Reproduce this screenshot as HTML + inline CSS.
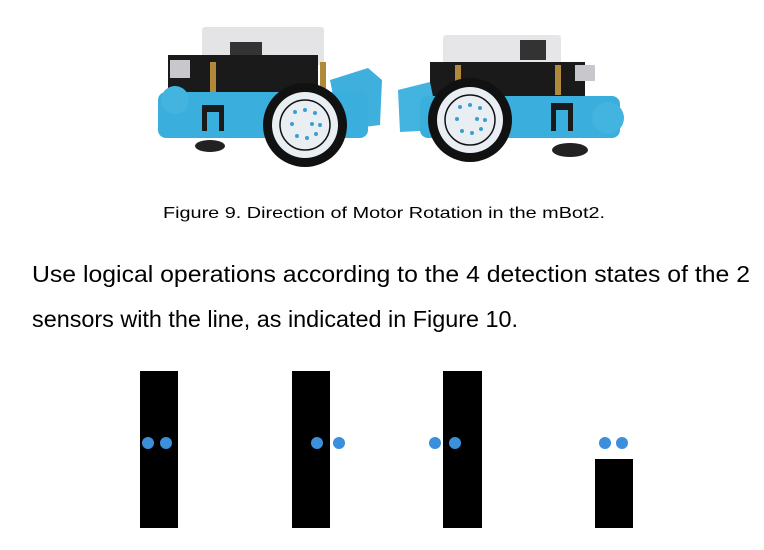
<!DOCTYPE html>
<html><head><meta charset="utf-8"><style>
html,body{margin:0;padding:0;background:#fff;}
svg{display:block}
text{font-family:"Liberation Sans",sans-serif;fill:#000}
</style></head><body>
<svg width="764" height="550" viewBox="0 0 764 550" xmlns="http://www.w3.org/2000/svg">
<rect width="764" height="550" fill="#fff"/>
<!-- Left robot -->
<g>
  <rect x="202" y="27" width="122" height="38" rx="3" fill="#e4e4e6"/>
  <rect x="230" y="42" width="32" height="16" fill="#333"/>
  <rect x="168" y="55" width="150" height="40" fill="#1a1a1a"/>
  <rect x="170" y="60" width="20" height="18" fill="#c8c8cc"/>
  <rect x="210" y="62" width="6" height="34" fill="#b08a3a"/>
  <rect x="320" y="62" width="6" height="30" fill="#b08a3a"/>
  <path d="M330 80 L368 68 L382 80 L380 125 L340 130 Z" fill="#3fb0de"/>
  <rect x="158" y="92" width="210" height="46" rx="8" fill="#3aaedc"/>
  <circle cx="175" cy="100" r="14" fill="#43b3e0"/>
  <rect x="202" y="105" width="22" height="26" fill="#1a1a1a"/>
  <rect x="207" y="112" width="12" height="19" fill="#3aaedc"/>
  <ellipse cx="210" cy="146" rx="15" ry="6" fill="#222"/>
  <circle cx="305" cy="125" r="42" fill="#111"/>
  <circle cx="305" cy="125" r="33" fill="#e8eef2"/>
  <circle cx="305" cy="125" r="25" fill="none" stroke="#111" stroke-width="1.5"/>
  <g fill="#3a9fd0">
    <circle cx="295" cy="112" r="2"/><circle cx="305" cy="110" r="2"/><circle cx="315" cy="113" r="2"/>
    <circle cx="292" cy="124" r="2"/><circle cx="312" cy="124" r="2"/><circle cx="320" cy="125" r="2"/>
    <circle cx="297" cy="136" r="2"/><circle cx="307" cy="138" r="2"/><circle cx="316" cy="134" r="2"/>
  </g>
</g>
<!-- Right robot -->
<g>
  <rect x="443" y="35" width="118" height="32" rx="3" fill="#e6e6e8"/>
  <rect x="520" y="40" width="26" height="20" fill="#333"/>
  <rect x="430" y="62" width="155" height="36" fill="#1a1a1a"/>
  <rect x="575" y="65" width="20" height="16" fill="#c8c8cc"/>
  <rect x="455" y="65" width="6" height="30" fill="#b08a3a"/>
  <rect x="555" y="65" width="6" height="30" fill="#b08a3a"/>
  <path d="M398 90 L430 82 L440 130 L400 132 Z" fill="#43b3e0"/>
  <rect x="420" y="96" width="200" height="42" rx="8" fill="#3aaedc"/>
  <circle cx="608" cy="118" r="16" fill="#43b3e0"/>
  <rect x="551" y="103" width="22" height="28" fill="#1a1a1a"/>
  <rect x="556" y="110" width="12" height="21" fill="#3aaedc"/>
  <ellipse cx="570" cy="150" rx="18" ry="7" fill="#222"/>
  <circle cx="470" cy="120" r="42" fill="#111"/>
  <circle cx="470" cy="120" r="33" fill="#e8eef2"/>
  <circle cx="470" cy="120" r="25" fill="none" stroke="#111" stroke-width="1.5"/>
  <g fill="#3a9fd0">
    <circle cx="460" cy="107" r="2"/><circle cx="470" cy="105" r="2"/><circle cx="480" cy="108" r="2"/>
    <circle cx="457" cy="119" r="2"/><circle cx="477" cy="119" r="2"/><circle cx="485" cy="120" r="2"/>
    <circle cx="462" cy="131" r="2"/><circle cx="472" cy="133" r="2"/><circle cx="481" cy="129" r="2"/>
  </g>
</g>
<text x="163" y="218" font-size="16" textLength="442" lengthAdjust="spacingAndGlyphs">Figure 9. Direction of Motor Rotation in the mBot2.</text>
<text x="32" y="282" font-size="23" textLength="718" lengthAdjust="spacingAndGlyphs">Use logical operations according to the 4 detection states of the 2</text>
<text x="32" y="327" font-size="23" textLength="486" lengthAdjust="spacingAndGlyphs">sensors with the line, as indicated in Figure 10.</text>
<g fill="#000">
  <rect x="140" y="371" width="38" height="157"/>
  <rect x="292" y="371" width="38" height="157"/>
  <rect x="443" y="371" width="39" height="157"/>
  <rect x="595" y="459" width="38" height="69"/>
</g>
<g fill="#3b8fdb">
  <circle cx="148" cy="443" r="6"/><circle cx="166" cy="443" r="6"/>
  <circle cx="317" cy="443" r="6"/><circle cx="339" cy="443" r="6"/>
  <circle cx="435" cy="443" r="6"/><circle cx="455" cy="443" r="6"/>
  <circle cx="605" cy="443" r="6"/><circle cx="622" cy="443" r="6"/>
</g>
</svg>
</body></html>
